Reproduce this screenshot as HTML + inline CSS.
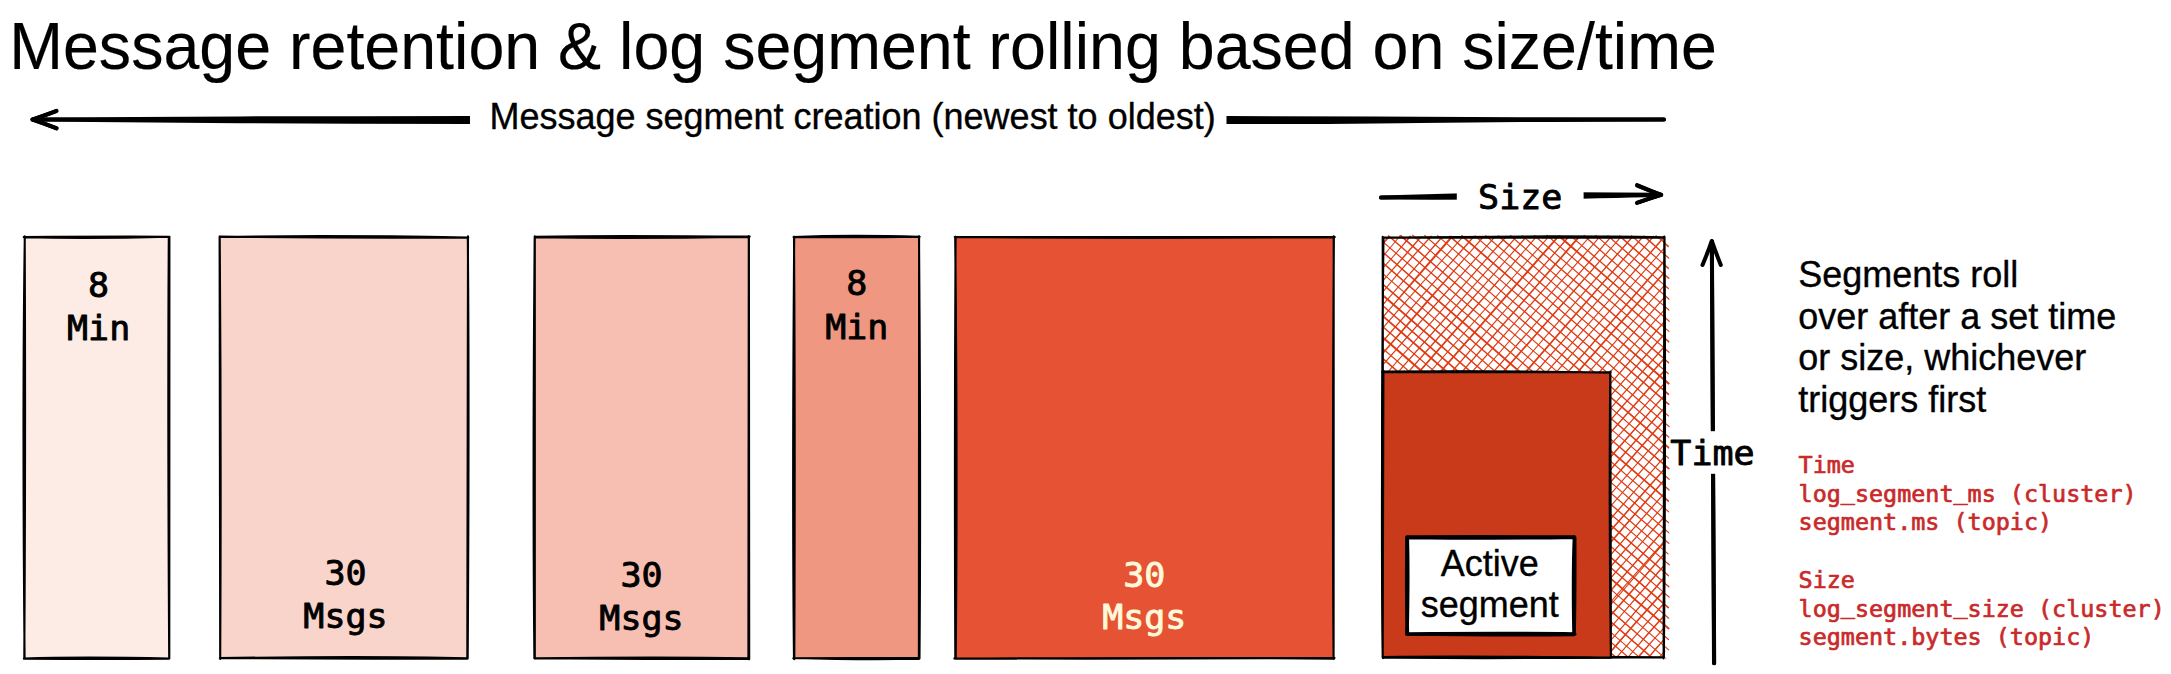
<!DOCTYPE html>
<html lang="en">
<head>
<meta charset="utf-8">
<title>Message retention &amp; log segment rolling based on size/time</title>
<style>
html,body{margin:0;padding:0;background:#fff;}
body{width:2171px;height:674px;overflow:hidden;}
svg{display:block;}
text{white-space:pre;}
</style>
</head>
<body>
<svg width="2171" height="674" viewBox="0 0 2171 674">
<rect width="2171" height="674" fill="#fff"/>
<!-- top arrow -->
<g fill="none" stroke="#000" stroke-width="4" stroke-linecap="round" stroke-linejoin="round">
<path d="M32.5 119.6C100 119 170 118.6 240 118.4S400 118 470 118S700 117.8 850 117.8S1100 117.9 1227 118S1360 118.5 1420 118.8S1510 119.1 1550 119.2S1630 119.4 1664 119.5"/>
<path d="M32.5 119.6C100 120.4 170 121 240 121.3S400 121.9 470 122S700 122.2 850 122.2S1100 122.2 1227 122.1S1360 121.4 1420 121S1510 120.1 1550 119.9S1630 119.6 1664 119.5"/>
<path d="M56.5 110.8Q42 116.5 32.5 119.6Q44 123.2 56.5 128.5"/>
<path d="M56.3 111.2L32.8 119.5L56.6 128.1"/>
</g>
<rect x="470" y="98" width="756.5" height="44" fill="#fff"/>
<!-- segments -->
<rect x="24.6" y="237" width="144.6" height="421.3" fill="#fdebe5"/>
<path d="M24 237.3Q94.1 238.8 169.3 236.7M23.7 237.1Q108.6 236.4 169.5 236.7M168.8 237.1Q167.7 410.5 169.2 658.1M169.4 236.9Q169.9 392.8 169.3 658.4M169.3 658.6Q81.1 656.6 23.9 658.6M169.1 658.7Q107 659.1 24.2 658.7M24.3 658.4Q25.6 445.1 24.7 236.2M24.6 658.2Q22.3 401.5 24.8 237" fill="none" stroke="#000" stroke-width="2.1" stroke-linecap="round"/>
<rect x="219.8" y="237" width="247.9" height="421.3" fill="#f9d4cb"/>
<path d="M219.8 236.6Q343.4 238.2 468.3 237.5M219.5 237Q323.2 235.1 467.6 237.5M468 236.4Q467.3 409.1 467.3 658.7M467.8 237.1Q469.3 397.5 467.7 658.5M467.4 658.3Q371.9 656 219.8 658.1M467.6 658.4Q338.3 659.1 219.9 657.9M220.2 658.8Q221.3 444.4 219.7 236.8M220.2 658.9Q219.2 468.5 219.6 236.5" fill="none" stroke="#000" stroke-width="2.1" stroke-linecap="round"/>
<rect x="534.8" y="237" width="214" height="421.3" fill="#f7bfb1"/>
<path d="M534.6 237.3Q642.9 238.7 749.7 236.6M534.6 236.7Q633.1 235.1 749.4 237.1M748.8 236.2Q747.8 482.6 748.4 659.1M748.9 236.7Q749.7 388.8 749.2 659.3M749 658.3Q657.8 656.9 534.7 658.4M749.1 658.8Q632.3 659.2 534.2 658.1M534.8 658.7Q535.5 492.1 534.8 236.4M534.4 658.2Q532.6 480.1 534.7 236.7" fill="none" stroke="#000" stroke-width="2.1" stroke-linecap="round"/>
<rect x="794" y="237" width="125" height="421.3" fill="#f09781"/>
<path d="M793.5 237.1Q864.4 237.6 919.7 236.7M793.7 237.1Q846.8 234.8 919.3 236.8M919.1 236.2Q918.2 414.6 918.9 658.9M919 236.4Q920.9 482 919.5 658.5M919.5 657.9Q847.7 658 793.3 658.2M918.8 658.8Q862.6 659.9 794.2 658M794.3 659.1Q795.2 416.9 794 236.8M794 659.1Q792.2 494.8 794.2 236.9" fill="none" stroke="#000" stroke-width="2.1" stroke-linecap="round"/>
<rect x="955.2" y="237" width="378.6" height="421.3" fill="#e65334"/>
<path d="M954.7 237Q1135.2 238.6 1334.8 237.1M955 237.1Q1139.7 236.8 1334.2 237M1333.9 236.6Q1332.2 491.8 1333.6 658.9M1333.7 236.3Q1334.5 457.2 1333.6 658.3M1334.3 658.6Q1178.1 657.2 954.9 658.8M1334.5 657.8Q1144.8 659.1 954.4 658.4M955.7 658.7Q957.6 461.6 955.2 236.8M955.3 658.4Q954.4 444.5 955.6 236.9" fill="none" stroke="#000" stroke-width="2.1" stroke-linecap="round"/>

<!-- hatch segment -->
<clipPath id="hc"><rect x="1370" y="228" width="310" height="430.6"/></clipPath>
<g fill="none" stroke="#df3a12" stroke-width="1.05" stroke-linecap="round" clip-path="url(#hc)">
<path d="M1656 235.6Q1661.8 240 1668.4 246.2M1656.3 236Q1663 240.7 1668.2 246.8M1644.2 236Q1656.3 247 1668.8 258.1M1644 236.6Q1656.7 247.6 1668.6 258.1M1631.7 235.9Q1649.2 252.3 1668.3 267.8M1631.5 235.7Q1650.6 252.4 1668.3 268.6M1619.6 235.6Q1643.3 256.7 1668.3 278.1M1619.6 236.4Q1643.9 258.1 1669 278.2M1607.9 235.7Q1638.1 262.2 1668.4 288.6M1607.8 235.9Q1637.4 262 1668.4 288.5M1595.9 235.4Q1632.4 267.1 1668.6 298.6M1596.7 236.1Q1632.7 267.4 1669.1 299.3M1584.1 235.4Q1625.7 273.3 1668.9 309.9M1584 235.9Q1625.8 273.1 1668.9 310.1M1571.2 236.4Q1620.4 279.6 1669.3 321.4M1571.4 236.3Q1619.4 278.2 1668.7 320.6M1558.7 236.4Q1613.9 284.1 1668.6 331.2M1559.1 235.5Q1614 283.5 1668.9 331.4M1546.9 235.2Q1607.1 287.8 1668.8 341.3M1547 235.3Q1607.9 288.5 1668.8 342.1M1534.6 235.9Q1602 293.4 1669 352.4M1534.2 235.5Q1601.7 292.9 1668.9 352.1M1522.2 235.8Q1595.8 299 1668.7 363M1522.7 236Q1596.3 298.7 1668.5 362.4M1511 236.2Q1590.1 305.6 1668.2 373.3M1510.4 235.5Q1588.9 304.8 1668.4 373.8M1498.1 235.8Q1584.2 309.6 1669.2 383.4M1498.9 236Q1583.6 309.2 1668.4 384.2M1485.8 235.7Q1576.7 314.6 1668.8 394.1M1486.2 236Q1577.9 314.6 1668.3 394.6M1475.1 236Q1571.9 320 1669.2 404.3M1475.1 235.9Q1571.5 319.4 1668.6 404.5M1461.5 236.1Q1564.5 325.5 1668.4 415.9M1461.9 235.4Q1565.9 326.2 1668.5 415.9M1449.7 236.5Q1559.8 330.7 1669.2 426.6M1449.8 236Q1559 330.5 1669 426.7M1437.6 235.6Q1552.8 336.8 1668.7 437.2M1437.6 235.7Q1553.4 336.3 1668.9 437.2M1424.7 235.4Q1546.6 341.2 1668.6 448.1M1425.5 236.3Q1546.6 341.1 1668.9 447.3M1412.5 235.2Q1540.6 347.2 1668.4 457.9M1412.9 235.5Q1540.5 346.6 1668.5 458.2M1400 235.5Q1534.6 352.3 1669.3 468.6M1400.8 235.5Q1534.5 352 1668.6 468.8M1388.6 236Q1528.2 358 1669.4 479.3M1388.6 235.6Q1528.7 358.2 1669.1 479.3M1383.3 242.1Q1525.4 365.2 1669 489.6M1382.9 241.9Q1526.2 366.5 1669 490.2M1382.9 252.5Q1525.2 377.8 1668.5 501.5M1383.1 252.2Q1526.1 376.9 1668.6 500.9M1382.7 263.1Q1525.5 387 1668.7 511.9M1383.2 263Q1526.7 387.6 1668.5 511.7M1383.7 274.4Q1526.9 398.7 1668.4 522.3M1383.1 273.9Q1525.8 397.9 1668.7 522.8M1383.4 285.1Q1525.5 408.5 1668.2 532.1M1383.4 284.3Q1526.1 408.1 1668.8 532.9M1383.7 295.3Q1525.8 419.8 1669 543.3M1383 296Q1525.3 419.5 1668.6 543.3M1383 306.1Q1525 430.9 1668.1 553.9M1382.4 305.1Q1525.9 430.2 1668 553.9M1383.2 316.9Q1525.8 441.6 1669.5 564.8M1383.2 315.8Q1526 440 1669.2 564.9M1382.4 326.5Q1526.2 450.3 1668.4 575.4M1383.3 326.8Q1526.5 451.2 1668.5 575.9M1382.6 337.8Q1525.2 462.1 1668.8 586.9M1383.5 337.4Q1526.7 461.2 1668.9 586.7M1382.7 348.5Q1526.3 473.4 1669 596.8M1383 348.8Q1525.6 473.4 1669.1 597.2M1383 359.1Q1526.3 483.7 1668.2 607.9M1383.6 358.8Q1526.9 484 1668.5 607.5M1383 369.7Q1526.5 493.3 1668.4 618M1383.5 370.2Q1526.3 494 1668.8 618.3M1382.9 380.3Q1525.4 504.8 1669.1 628.4M1382.8 380Q1525.2 505.3 1668.3 628.9M1383.3 391.8Q1525.2 515.6 1668.5 639.4M1383.1 391.2Q1526 515.8 1668.5 639.7M1383.2 402.4Q1526.5 525.8 1668.7 649.9M1383 401.9Q1525.4 525.5 1668.7 649.9M1382.4 413.4Q1525.6 538.3 1669.1 661.5M1382.8 412.6Q1527 536.5 1669.3 661.9M1383 424.4Q1516.8 540.8 1652.2 658.1M1382.6 423.7Q1518.3 540.5 1652.3 657.7M1383.3 434.1Q1512.2 545.2 1639.6 657.7M1383 434.3Q1510.6 545.2 1639.5 657.3M1382.9 444.7Q1504.7 550.6 1628.3 657.2M1383.4 444.2Q1506.2 550.8 1627.9 657.2M1382.8 454.6Q1499.6 555.3 1615.9 657.5M1382.9 455.3Q1499.1 557 1615.9 657.2M1383 465.4Q1494.3 562.3 1604.3 657.5M1383.1 465Q1493 561.9 1604.7 657.3M1382.7 475.4Q1487.7 566.2 1592.8 658.2M1382.2 475.1Q1486.9 566.9 1593 658.2M1383 485.7Q1481.8 572.3 1580.5 657.4M1382.7 485.7Q1481.4 571.2 1581.2 658.1M1383.7 496.7Q1477.2 576.9 1569.1 657.4M1383.7 496.4Q1477.1 576.4 1569.5 657.5M1382.9 507.5Q1469.2 582.2 1556.6 657.3M1383 507Q1469.8 582.9 1555.8 657.4M1382.7 517.6Q1464.3 586.6 1544.7 657.1M1383.3 517.6Q1463.8 587.6 1544.5 657.4M1382.7 527.7Q1456.6 592.8 1532.3 657.4M1382.8 527.2Q1457.6 591.9 1532.6 657.8M1382.7 537.2Q1450.8 597.3 1520.5 657.6M1382.7 537.1Q1452.3 597.7 1521 657.2M1383 547.6Q1446.7 601.8 1508.8 657.3M1383.4 548.6Q1445.6 604.1 1509 657.8M1382.7 559Q1440.6 609 1497.5 657.5M1382.2 558.3Q1440.5 607.5 1497.3 657.5M1383.5 569.3Q1433.4 613.2 1484.3 658.1M1383.2 569.4Q1432.9 614.1 1483.8 657.3M1383 580.1Q1426.9 619.1 1472.2 658M1383 579.5Q1428.1 619.3 1473 657.7M1382.7 591.3Q1421.9 623.9 1460.1 657.4M1383.6 590.8Q1421.6 623.7 1459.8 657.8M1383 600.8Q1415.8 630.1 1448.1 657.6M1382.8 601.5Q1414.3 628.8 1447.6 657.3M1382.9 612.2Q1408.4 634.7 1435.2 658.2M1383 611.8Q1408.1 634.4 1434.6 657.6M1382.7 622.9Q1403.1 640 1423.1 657.3M1382.6 623.3Q1401.9 640.5 1422.8 657.2M1383.7 633.5Q1396.6 645.7 1411.2 657.3M1383.4 633Q1398.2 645.7 1411.5 657.5M1382.6 643.7Q1390.8 650.3 1399.3 657.9M1382.4 643.5Q1391.6 650.1 1399.2 658M1382.4 653.8Q1385.6 655.3 1387.7 658.1M1382.5 653.4Q1385.4 656.3 1387.2 658.4"/>
<path d="M1382.5 244Q1386.3 240.3 1389.3 236.8M1382.8 243.2Q1385.4 240.2 1388.7 236.3M1383.4 255.8Q1391.6 246.1 1399.6 236.5M1383.5 255.5Q1392.1 245.7 1399.1 237M1383.2 267.6Q1397.1 252.7 1410.1 236.1M1383.1 268Q1396.5 252.8 1410.8 236.2M1383.1 280.4Q1402 259.3 1421.1 237M1383.1 280.6Q1402.1 258.3 1420.9 236.7M1382.6 292.1Q1406 263.6 1430.8 236.8M1382.5 292.4Q1405.9 263.4 1431.1 236M1383.1 304.7Q1411.8 270.9 1442.1 236.9M1382.7 304.9Q1411.7 271.6 1442.2 237.1M1383.3 316.9Q1416.8 275.8 1451.7 236.4M1383.2 316.7Q1418 276.5 1452.2 237.1M1382.3 328.6Q1422.5 282.3 1463.3 236.4M1382.2 328.7Q1422.3 282.5 1462.8 236.9M1383.3 341.1Q1427.8 288.7 1474.1 236.6M1382.7 341.4Q1428.2 288.5 1473.5 236.7M1383.6 352Q1432.9 293.7 1484 236.5M1383.5 353Q1433.3 295.4 1483.1 236.8M1382.5 365.5Q1438.1 302.1 1494.5 237.2M1382.6 365.1Q1438 301.2 1494.9 236.8M1382.3 378.4Q1444.4 307.4 1506 236.8M1382.6 378Q1445.1 306.2 1506.3 236.1M1382.7 389.6Q1449.3 313.9 1516.4 236.8M1382.7 389.8Q1449.8 313.7 1516 237.1M1382.6 401.6Q1454.6 319.7 1526.1 236.9M1382.4 401.7Q1453.9 319.1 1526.7 236.6M1383.2 413.7Q1460.3 325.7 1536.6 236.4M1382.4 413.6Q1459.6 324.4 1536.7 236.5M1382.6 426.2Q1464.7 332.5 1548.3 237M1382.4 426.4Q1465.8 331.6 1548.3 237.1M1382.8 438.3Q1470 336.5 1557.7 236.5M1383 438.5Q1470.9 337.6 1558.4 236.8M1382.7 450.5Q1476.5 343.6 1568.8 236.9M1383.2 450.7Q1476.4 344.2 1568.8 236.4M1383.1 462.8Q1481.6 349.8 1579.5 236.9M1382.6 462.7Q1481.2 350.1 1578.7 236.6M1383.1 474.3Q1486.7 355.1 1589.9 236.3M1383.1 475Q1486.9 355.6 1589.7 236.5M1382.8 487.4Q1490.7 362.5 1599.8 236.7M1383.3 486.9Q1491.6 362.2 1599.9 236.7M1383 499Q1496.9 368.8 1611.1 236.9M1382.7 499.1Q1495.9 369 1610.6 237.2M1383 510.3Q1501.1 373.4 1621 236.8M1383.1 511Q1501.6 374.3 1621.1 236.7M1383.7 523.3Q1507.7 379.6 1632 237M1382.8 523.6Q1507.7 380.3 1632.7 236.8M1382.7 536.5Q1513.4 387.2 1642.9 236.9M1382.9 535.7Q1513.6 385.8 1643.1 236.3M1383.4 547.9Q1518.4 391.5 1653.8 236.2M1382.4 548.4Q1517.7 392.3 1653.7 236.2M1382.9 560.1Q1524.3 399 1664.1 236.6M1382.5 560.3Q1522.8 399.3 1664.3 237.1M1383 571.5Q1523.7 409.7 1663.8 248.7M1382.4 571.6Q1523 409.5 1664 248.5M1383.3 584.6Q1523.9 423.1 1664.2 260.7M1383 584.7Q1523.4 423 1664.9 260.6M1383 596.6Q1523.7 434.4 1664.3 273M1382.6 595.9Q1523.4 433.4 1664.3 272.1M1382.9 608.6Q1522.7 447.5 1664.3 285.3M1382.9 608.7Q1523.4 446.8 1664.5 285.2M1383.5 620.2Q1523.3 458.8 1664.7 296.9M1383.2 621.2Q1523.8 459.2 1664.4 297.3M1383.2 632.8Q1523.7 471.7 1664.8 309.3M1382.7 633.3Q1523.1 471.3 1664.6 309.5M1382.9 645.1Q1524.5 482.9 1664.9 320.9M1383 644.8Q1524 483.8 1664.6 321.7M1383 657.2Q1523.7 496.2 1663.9 334.3M1382.7 657.6Q1522.8 495.6 1664.6 334.2M1393.2 657Q1529.2 502.2 1664.7 346.4M1394.2 657.5Q1529.6 502.1 1664.3 346.4M1403.8 657.4Q1534.7 506.8 1664.7 357.6M1403.3 657.2Q1534.3 507.4 1664.8 358.1M1415.2 657.7Q1539.5 513.8 1664.5 370.1M1414.7 657.3Q1538.8 514.2 1664.6 370.8M1425.1 657Q1545.8 519.7 1664.9 382.7M1425.1 657.3Q1545.7 520.1 1664.6 383.1M1436.5 657Q1550 525.1 1664.7 394.9M1436.1 657.7Q1549.4 527.4 1664.1 395.8M1446.6 657.1Q1556.1 531.5 1664.8 407M1446.5 657.9Q1556.1 532.1 1664.8 407.7M1458.2 657.6Q1560.8 540 1664.2 420.7M1458.3 656.9Q1561.6 537.9 1663.8 420.4M1468.4 657.8Q1566.1 544.6 1663.8 432.9M1468.4 657.6Q1565.6 545.7 1664.1 432.7M1478.7 657.9Q1571.2 551.8 1664.2 444.6M1479.3 658.1Q1570.9 552.1 1664.1 444.4M1489.8 657.9Q1577.7 558.1 1663.9 457M1489.7 657.4Q1576.6 557.7 1664 457.3M1500.1 658.1Q1581.5 562.8 1664.7 468.4M1499.9 657.8Q1581.5 564 1664.7 469M1510.3 658.3Q1588.1 569.7 1664.6 479.9M1510.2 658.4Q1587.3 569.6 1664.3 479.7M1521.1 657.7Q1593.1 575.6 1664.7 492.9M1521.4 657.1Q1593.2 575.2 1663.9 493.5M1530.8 658.1Q1597.8 582.1 1664.5 504.6M1531.7 657.8Q1597.4 580.8 1664.2 505M1541.4 657.8Q1602.7 587.1 1664.4 516.4M1541.4 657.1Q1602.5 586.9 1665.1 516.2M1553 657.1Q1608.7 592.2 1664.3 529.1M1552.2 658Q1608.5 593.2 1664.5 529.3M1563.9 657.6Q1615 600.6 1664.9 541.9M1563.3 657.2Q1612.9 598.4 1664.1 541.3M1574.1 657.8Q1620 605 1664.4 553.9M1574.1 657.2Q1618.6 605.7 1664 553.9M1584.7 657.9Q1624.6 610.9 1664.7 565.2M1585.1 657.9Q1624.2 611.1 1664.3 564.8M1595.3 658.2Q1630.4 618.3 1664.5 577.7M1595.1 658.3Q1629.8 618.9 1663.6 577.8M1606.4 657.1Q1634.8 623.5 1664.6 590.6M1605.9 656.9Q1634.8 622.8 1664.5 589.9M1616.8 657Q1639.9 630.4 1664.6 602.3M1616.3 658Q1639.9 630.4 1664.8 603M1627.2 658Q1645.8 636.5 1664.5 615.7M1628 657.5Q1645.6 635.5 1664.3 615.1M1638.5 657.5Q1650.7 642.7 1663.7 628.2M1637.9 657.2Q1650.6 642.4 1664.5 627.6M1648.5 657.8Q1655.3 649.6 1663.7 640.1M1648.9 657Q1656.1 647.6 1664.1 639.3M1658.8 658Q1661.2 654.5 1665 651.7M1659.4 657Q1662.9 653.1 1664.7 651"/>
</g>
<path d="M1382.8 237.4Q1522.4 237.7 1664.7 237.8M1382.8 237.8Q1550.1 235.3 1664.2 237.3M1664.3 236.6Q1663.5 471.2 1663.6 658.4M1664.5 237.1Q1665.8 420.8 1663.9 657.5M1663.8 657.4Q1481.9 655.9 1383 657.2M1664 657.2Q1507.4 658.6 1382.8 657.1M1383.1 658.1Q1383.2 440.6 1382.7 236.7M1383.1 657.5Q1380.8 458.5 1383.5 237.2" fill="none" stroke="#000" stroke-width="2.1" stroke-linecap="round"/>
<rect x="1383" y="372.3" width="227.5" height="285" fill="#c83a1a"/>
<path d="M1382.1 371.9Q1518.8 372.6 1610.7 372.3M1382.9 371.9Q1484.7 370.5 1610.4 372.6M1610.3 371.8Q1608.9 501.9 1610.9 657.5M1610.4 371.5Q1611.3 554.1 1610.9 657.7M1610.2 657.7Q1469.5 656 1383.2 657.1M1610.9 657.4Q1466.1 658.9 1382.9 657.3M1382.7 657.6Q1383.7 489.8 1383.4 371.8M1382.7 657.3Q1381.2 532.7 1382.7 372.6" fill="none" stroke="#000" stroke-width="2.1" stroke-linecap="round"/>
<rect x="1407.2" y="537.4" width="167.1" height="96.6" fill="#fff"/>
<path d="M1407 537.3Q1507.1 538.4 1574.1 537.1M1406.9 537.2Q1467.4 536.6 1574.2 537.2M1574.5 537Q1573 574.9 1574.1 634.3M1574.6 537.6Q1574.9 592.1 1574 634M1574.7 634Q1509.3 633.3 1406.9 634M1574.2 634.3Q1503.5 635.2 1407.1 633.9M1406.9 634.2Q1408.3 577.8 1407.2 537M1407.3 634.1Q1406.5 597.7 1407 537.2" fill="none" stroke="#000" stroke-width="3.7" stroke-linecap="round" stroke-linejoin="round"/>
<!-- size arrow -->
<g fill="none" stroke="#000" stroke-width="4" stroke-linecap="round" stroke-linejoin="round">
<path d="M1381 197.6Q1520 192.6 1661 194.8"/>
<path d="M1381 197.6Q1560 198.2 1661 194.8"/>
<path d="M1637 185.2Q1650 191 1661.3 194.8Q1650 198 1637 203"/>
<path d="M1637.3 185.6L1661 194.8L1637.2 202.6"/>
</g>
<rect x="1456.8" y="176" width="126.8" height="40" fill="#fff"/>
<!-- time arrow -->
<g fill="none" stroke="#000" stroke-width="4" stroke-linecap="round" stroke-linejoin="round">
<path d="M1714.2 663.3Q1712.6 450 1711.8 241.5"/>
<path d="M1714 663.3Q1713.4 450 1711.9 241.5"/>
<path d="M1702.5 265Q1708 252 1711.8 241Q1715.6 252 1720.8 265"/>
</g>
<rect x="1690" y="431.2" width="45" height="42.6" fill="#fff"/>
<!-- text -->
<text transform="translate(9.2 69) scale(1 1.04)" text-anchor="start" fill="#000" stroke="#000" stroke-width="0.15" stroke-linejoin="round" font-size="64.55" style="font-family:'Liberation Sans',Arial,Helvetica,sans-serif">Message retention &amp; log segment rolling based on size/time</text>
<text transform="translate(489.5 128.7) scale(1 1.035)" text-anchor="start" fill="#000" stroke="#000" stroke-width="0.35" stroke-linejoin="round" font-size="36" style="font-family:'Liberation Sans',Arial,Helvetica,sans-serif">Message segment creation (newest to oldest)</text>
<text transform="translate(98.6 296.9) scale(1 0.955)" text-anchor="middle" fill="#000" stroke="#000" stroke-width="0.9" stroke-linejoin="round" font-size="35" style="font-family:'DejaVu Sans Mono','Liberation Mono',monospace">8</text>
<text transform="translate(98.6 340.1) scale(1 0.955)" text-anchor="middle" fill="#000" stroke="#000" stroke-width="0.9" stroke-linejoin="round" font-size="35" style="font-family:'DejaVu Sans Mono','Liberation Mono',monospace">Min</text>
<text transform="translate(345.5 585) scale(1 0.955)" text-anchor="middle" fill="#000" stroke="#000" stroke-width="0.9" stroke-linejoin="round" font-size="35" style="font-family:'DejaVu Sans Mono','Liberation Mono',monospace">30</text>
<text transform="translate(345.5 627.8) scale(1 0.955)" text-anchor="middle" fill="#000" stroke="#000" stroke-width="0.9" stroke-linejoin="round" font-size="35" style="font-family:'DejaVu Sans Mono','Liberation Mono',monospace">Msgs</text>
<text transform="translate(641.5 587) scale(1 0.955)" text-anchor="middle" fill="#000" stroke="#000" stroke-width="0.9" stroke-linejoin="round" font-size="35" style="font-family:'DejaVu Sans Mono','Liberation Mono',monospace">30</text>
<text transform="translate(641.5 629.7) scale(1 0.955)" text-anchor="middle" fill="#000" stroke="#000" stroke-width="0.9" stroke-linejoin="round" font-size="35" style="font-family:'DejaVu Sans Mono','Liberation Mono',monospace">Msgs</text>
<text transform="translate(856.8 295.2) scale(1 0.955)" text-anchor="middle" fill="#000" stroke="#000" stroke-width="0.9" stroke-linejoin="round" font-size="35" style="font-family:'DejaVu Sans Mono','Liberation Mono',monospace">8</text>
<text transform="translate(856.8 338.7) scale(1 0.955)" text-anchor="middle" fill="#000" stroke="#000" stroke-width="0.9" stroke-linejoin="round" font-size="35" style="font-family:'DejaVu Sans Mono','Liberation Mono',monospace">Min</text>
<text transform="translate(1144.3 586.6) scale(1 0.955)" text-anchor="middle" fill="#fff9db" stroke="#fff9db" stroke-width="0.9" stroke-linejoin="round" font-size="35" style="font-family:'DejaVu Sans Mono','Liberation Mono',monospace">30</text>
<text transform="translate(1144.3 629.2) scale(1 0.955)" text-anchor="middle" fill="#fff9db" stroke="#fff9db" stroke-width="0.9" stroke-linejoin="round" font-size="35" style="font-family:'DejaVu Sans Mono','Liberation Mono',monospace">Msgs</text>
<text transform="translate(1520.2 208.6) scale(1 0.955)" text-anchor="middle" fill="#000" stroke="#000" stroke-width="0.9" stroke-linejoin="round" font-size="35" style="font-family:'DejaVu Sans Mono','Liberation Mono',monospace">Size</text>
<text transform="translate(1712.5 465.3) scale(1 0.955)" text-anchor="middle" fill="#000" stroke="#000" stroke-width="0.9" stroke-linejoin="round" font-size="35" style="font-family:'DejaVu Sans Mono','Liberation Mono',monospace">Time</text>
<text transform="translate(1489.8 575.6) scale(1 1.035)" text-anchor="middle" fill="#000" stroke="#000" stroke-width="0.35" stroke-linejoin="round" font-size="36" style="font-family:'Liberation Sans',Arial,Helvetica,sans-serif">Active</text>
<text transform="translate(1489.8 616.6) scale(1 1.035)" text-anchor="middle" fill="#000" stroke="#000" stroke-width="0.35" stroke-linejoin="round" font-size="36" style="font-family:'Liberation Sans',Arial,Helvetica,sans-serif">segment</text>
<text transform="translate(1798.3 287) scale(1 1.035)" text-anchor="start" fill="#000" stroke="#000" stroke-width="0.35" stroke-linejoin="round" font-size="36" style="font-family:'Liberation Sans',Arial,Helvetica,sans-serif">Segments roll</text>
<text transform="translate(1798.3 328.5) scale(1 1.035)" text-anchor="start" fill="#000" stroke="#000" stroke-width="0.35" stroke-linejoin="round" font-size="36" style="font-family:'Liberation Sans',Arial,Helvetica,sans-serif">over after a set time</text>
<text transform="translate(1798.3 370) scale(1 1.035)" text-anchor="start" fill="#000" stroke="#000" stroke-width="0.35" stroke-linejoin="round" font-size="36" style="font-family:'Liberation Sans',Arial,Helvetica,sans-serif">or size, whichever</text>
<text transform="translate(1798.3 411.5) scale(1 1.035)" text-anchor="start" fill="#000" stroke="#000" stroke-width="0.35" stroke-linejoin="round" font-size="36" style="font-family:'Liberation Sans',Arial,Helvetica,sans-serif">triggers first</text>
<text transform="translate(1798.6 473) scale(1 1)" text-anchor="start" fill="#c92a2a" stroke="#c92a2a" stroke-width="0.7" stroke-linejoin="round" font-size="23.4" style="font-family:'DejaVu Sans Mono','Liberation Mono',monospace">Time</text>
<text transform="translate(1798.6 501.7) scale(1 1)" text-anchor="start" fill="#c92a2a" stroke="#c92a2a" stroke-width="0.7" stroke-linejoin="round" font-size="23.4" style="font-family:'DejaVu Sans Mono','Liberation Mono',monospace">log<tspan dy="-3.2">_</tspan><tspan dy="3.2">segment</tspan><tspan dy="-3.2">_</tspan><tspan dy="3.2">ms (cluster)</tspan></text>
<text transform="translate(1798.6 530.4) scale(1 1)" text-anchor="start" fill="#c92a2a" stroke="#c92a2a" stroke-width="0.7" stroke-linejoin="round" font-size="23.4" style="font-family:'DejaVu Sans Mono','Liberation Mono',monospace">segment.ms (topic)</text>
<text transform="translate(1798.6 587.9) scale(1 1)" text-anchor="start" fill="#c92a2a" stroke="#c92a2a" stroke-width="0.7" stroke-linejoin="round" font-size="23.4" style="font-family:'DejaVu Sans Mono','Liberation Mono',monospace">Size</text>
<text transform="translate(1798.6 616.6) scale(1 1)" text-anchor="start" fill="#c92a2a" stroke="#c92a2a" stroke-width="0.7" stroke-linejoin="round" font-size="23.4" style="font-family:'DejaVu Sans Mono','Liberation Mono',monospace">log<tspan dy="-3.2">_</tspan><tspan dy="3.2">segment</tspan><tspan dy="-3.2">_</tspan><tspan dy="3.2">size (cluster)</tspan></text>
<text transform="translate(1798.6 645.3) scale(1 1)" text-anchor="start" fill="#c92a2a" stroke="#c92a2a" stroke-width="0.7" stroke-linejoin="round" font-size="23.4" style="font-family:'DejaVu Sans Mono','Liberation Mono',monospace">segment.bytes (topic)</text>

</svg>
</body>
</html>
